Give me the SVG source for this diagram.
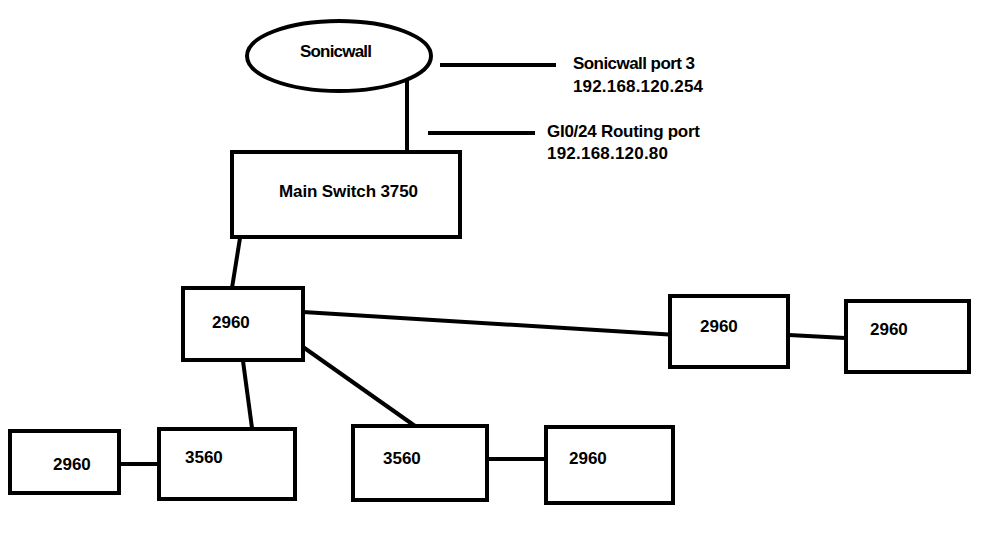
<svg xmlns="http://www.w3.org/2000/svg" width="999" height="534" viewBox="0 0 999 534">
<style>
.n{fill:#fff;stroke:#000;stroke-width:4}
.c line{stroke:#000;stroke-width:4;stroke-linecap:butt}
text{font-family:"Liberation Sans",Arial,sans-serif;font-weight:bold;font-size:17px;fill:#000}
</style>
<rect width="999" height="534" fill="#fff"/>
<g class="c" id="connectors">
<line x1="407" y1="80" x2="407" y2="152"/>
<line x1="440" y1="65" x2="556" y2="65"/>
<line x1="428" y1="133" x2="535" y2="133"/>
<line x1="240" y1="238" x2="232" y2="288"/>
<line x1="303" y1="312" x2="677" y2="335"/>
<line x1="789" y1="335" x2="845" y2="338"/>
<line x1="243" y1="361" x2="252" y2="428"/>
<line x1="303" y1="347" x2="415" y2="426"/>
<line x1="119" y1="464" x2="159" y2="464"/>
<line x1="487" y1="459" x2="546" y2="459"/>
</g>
<g id="sonicwall">
<ellipse class="n" cx="339" cy="56" rx="92" ry="35"/>
<text x="300" y="57" textLength="72">Sonicwall</text>
</g>
<g id="label-sonicwall-port">
<text x="573" y="69" textLength="122">Sonicwall port 3</text>
<text x="573" y="92" textLength="130">192.168.120.254</text>
</g>
<g id="label-routing-port">
<text x="547" y="137" textLength="153">GI0/24 Routing port</text>
<text x="547" y="159" textLength="121">192.168.120.80</text>
</g>
<g id="main-switch">
<rect class="n" x="232" y="152" width="228" height="85"/>
<text x="279" y="197" textLength="139">Main Switch 3750</text>
</g>
<g id="sw2960-a">
<rect class="n" x="183" y="288" width="120" height="72"/>
<text x="212" y="328">2960</text>
</g>
<g id="sw2960-b">
<rect class="n" x="670" y="296" width="118" height="71"/>
<text x="700" y="332">2960</text>
</g>
<g id="sw2960-c">
<rect class="n" x="846" y="301" width="123" height="71"/>
<text x="870" y="335">2960</text>
</g>
<g id="sw2960-d">
<rect class="n" x="10" y="431" width="109" height="62"/>
<text x="53" y="470">2960</text>
</g>
<g id="sw3560-a">
<rect class="n" x="159" y="429" width="136" height="70"/>
<text x="185" y="463">3560</text>
</g>
<g id="sw3560-b">
<rect class="n" x="353" y="426" width="134" height="74"/>
<text x="383" y="464">3560</text>
</g>
<g id="sw2960-e">
<rect class="n" x="546" y="427" width="127" height="76"/>
<text x="569" y="464">2960</text>
</g>
</svg>
